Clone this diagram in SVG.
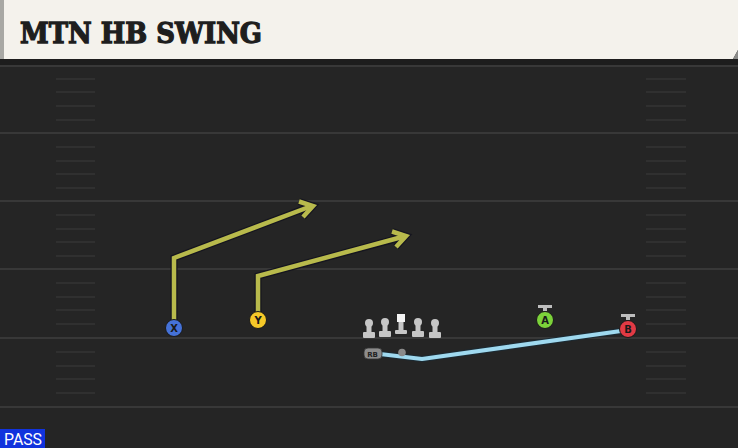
<svg xmlns="http://www.w3.org/2000/svg" width="738" height="448" viewBox="0 0 738 448">
<defs>
<style>
.yard{stroke:#383838;stroke-width:2}
.hash{stroke:#353535;stroke-width:1.6}
.route{fill:none;stroke-linejoin:miter;stroke-linecap:butt}
.routeOut{stroke:#15151f;stroke-width:7}
.routeIn{stroke:#b8ba4c;stroke-width:4.5}
.lineman{fill:#c6c6c6}
.lbl{font-family:"DejaVu Sans",sans-serif;font-weight:bold;font-size:10px;text-anchor:middle;fill:#1a1a1a}
</style>
</defs>
<rect width="738" height="448" fill="#252525"/>
<rect x="0" y="58" width="738" height="8" fill="#1d1d1d"/>
<g id="field">
<line class="yard" x1="0" y1="66" x2="738" y2="66"/>
<line class="yard" x1="0" y1="133" x2="738" y2="133"/>
<line class="yard" x1="0" y1="201" x2="738" y2="201"/>
<line class="yard" x1="0" y1="269" x2="738" y2="269"/>
<line class="yard" x1="0" y1="338" x2="738" y2="338"/>
<line class="yard" x1="0" y1="407" x2="738" y2="407"/>
<g id="hashL">
<path class="hash" d="M56 79H95M56 92H95M56 106H95M56 120H95M56 147H95M56 161H95M56 174H95M56 188H95M56 215H95M56 229H95M56 242H95M56 256H95M56 283H95M56 297H95M56 310H95M56 324H95M56 352H95M56 366H95M56 379H95M56 393H95"/>
</g>
<g id="hashR">
<path class="hash" d="M646 79H686M646 92H686M646 106H686M646 120H686M646 147H686M646 161H686M646 174H686M646 188H686M646 215H686M646 229H686M646 242H686M646 256H686M646 283H686M646 297H686M646 310H686M646 324H686M646 352H686M646 366H686M646 379H686M646 393H686"/>
</g>
</g>
<g id="header">
<path d="M0 0H738V50L733 59H0Z" fill="#f4f2ec"/>
<path d="M733 59L738 50V59Z" fill="#8a8a88"/>
<rect x="0" y="0" width="4" height="59" fill="#a8a8a4"/>
<text x="20" y="43" font-family="'DejaVu Serif',serif" font-weight="bold" font-size="28" fill="#1e1e1e" stroke="#1e1e1e" stroke-width="1.3" textLength="242" lengthAdjust="spacingAndGlyphs">MTN HB SWING</text>
</g>
<g id="connectors">
<g id="routeX">
<polyline class="route routeOut" points="174,329 174,258 306,208"/>
<path d="M299,201.5 L313,206 L303,217" fill="none" stroke="#15151f" stroke-width="7" stroke-linejoin="miter"/>
<polyline class="route routeIn" points="174,329 174,258 309,207"/>
<path d="M299,201.5 L313,206 L303,217" fill="none" stroke="#b8ba4c" stroke-width="4.5" stroke-linejoin="miter"/>
</g>
<g id="routeY">
<polyline class="route routeOut" points="258,320 258,276 399,238"/>
<path d="M392,231.5 L406,236 L396,247" fill="none" stroke="#15151f" stroke-width="7" stroke-linejoin="miter"/>
<polyline class="route routeIn" points="258,320 258,276 402,237"/>
<path d="M392,231.5 L406,236 L396,247" fill="none" stroke="#b8ba4c" stroke-width="4.5" stroke-linejoin="miter"/>
</g>
<g id="routeRB">
<polyline points="380,354 422,359 628,330" fill="none" stroke="#1b2a33" stroke-width="6" stroke-linejoin="round"/>
<polyline points="380,354 422,359 628,330" fill="none" stroke="#9fd9ef" stroke-width="4" stroke-linejoin="round"/>
</g>
</g>
<g id="ol">
<g id="lt"><circle class="lineman" cx="369" cy="323" r="4"/><rect class="lineman" x="366.5" y="323" width="5" height="10"/><rect class="lineman" x="363" y="332" width="12" height="6" rx="1"/></g>
<g id="lg"><circle class="lineman" cx="385" cy="322" r="4"/><rect class="lineman" x="382.5" y="322" width="5" height="10"/><rect class="lineman" x="379" y="331" width="12" height="6" rx="1"/></g>
<g id="c"><rect x="397" y="314" width="8" height="8" fill="#f4f4f4"/><rect class="lineman" x="398.5" y="322" width="5" height="9"/><rect class="lineman" x="395" y="330" width="12" height="4" rx="1"/></g>
<g id="rg"><circle class="lineman" cx="418" cy="322" r="4"/><rect class="lineman" x="415.5" y="322" width="5" height="10"/><rect class="lineman" x="412" y="331" width="12" height="6" rx="1"/></g>
<g id="rt"><circle class="lineman" cx="435" cy="323" r="4"/><rect class="lineman" x="432.5" y="323" width="5" height="10"/><rect class="lineman" x="429" y="332" width="12" height="6" rx="1"/></g>
</g>
<g id="qb"><circle cx="402" cy="352.5" r="3.8" fill="#8a8a8a"/></g>
<g id="rb">
<rect x="364" y="348" width="18" height="11" rx="4" fill="#8c8c8c" stroke="#333" stroke-width="0.8"/>
<text x="372.5" y="356.5" font-family="'DejaVu Sans',sans-serif" font-size="7" font-weight="bold" text-anchor="middle" fill="#222">RB</text>
</g>
<g id="x">
<circle cx="174" cy="328" r="8.5" fill="#4572d8" stroke="#1a1a1a" stroke-width="1"/>
<text class="lbl" x="174" y="332">X</text>
</g>
<g id="y">
<circle cx="258" cy="320" r="8.5" fill="#f6c928" stroke="#1a1a1a" stroke-width="1"/>
<text class="lbl" x="258" y="324">Y</text>
</g>
<g id="a">
<rect x="538" y="305" width="14" height="3" fill="#bdbdbd"/>
<rect x="543" y="307" width="4" height="4" fill="#bdbdbd"/>
<circle cx="545" cy="320" r="8.5" fill="#7cd23a" stroke="#1a1a1a" stroke-width="1"/>
<text class="lbl" x="545" y="324">A</text>
</g>
<g id="b">
<rect x="621" y="314" width="14" height="3" fill="#bdbdbd"/>
<rect x="626" y="316" width="4" height="4" fill="#bdbdbd"/>
<circle cx="628" cy="329" r="8.5" fill="#e23a44" stroke="#1a1a1a" stroke-width="1"/>
<text class="lbl" x="628" y="333">B</text>
</g>
<g id="pass">
<rect x="0" y="429" width="45" height="19" fill="#1133dd"/>
<text x="4" y="445" font-family="Roboto,'DejaVu Sans',sans-serif" font-size="16" fill="#ffffff" textLength="38" lengthAdjust="spacingAndGlyphs">PASS</text>
</g>
</svg>
